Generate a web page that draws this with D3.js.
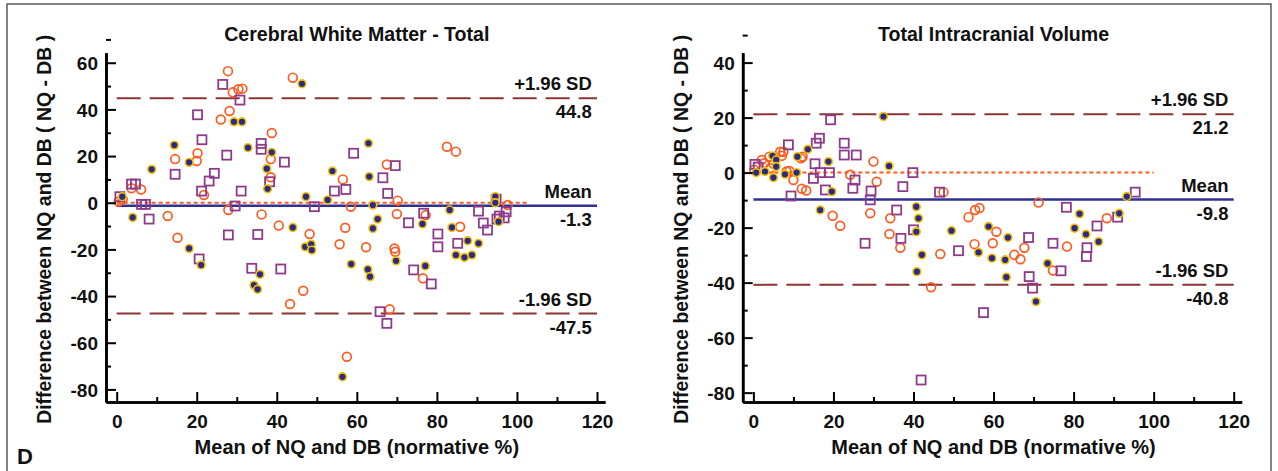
<!DOCTYPE html>
<html>
<head>
<meta charset="utf-8">
<script src="https://cdn.jsdelivr.net/npm/d3@7"></script>
<style>
  body { margin: 0; background: #fff; }
  text { font-family: 'Liberation Sans', Arial, sans-serif; font-weight: bold; fill: #111; }
</style>
</head>
<body>
<div id="chart"></div>
<script>
// Cerebral White Matter - Total : [mean, difference]
const cwmOrange = [
  [0.5, 0.5], [1.5, 1.5], [3.7, 6.2], [6.1, 5.7], [12.75, -5.7], [14.6, 18.7], [15.2, -15], [20, 17.9],
  [20.2, 21.2], [21.8, 3.3], [26, 35.7], [27.8, 56.4], [27.9, -3.1], [28.2, 39.3], [29, 47.3],
  [30.4, 48.6], [31.4, 48.9], [36.2, -5], [38.5, 10.9], [38.5, 18.7], [38.75, 29.9], [40.5, -9.8],
  [43.3, -43.4], [44, 53.6], [46.6, -37.7], [48.2, -13.4], [55.7, -17.8], [56.5, 10], [57.1, -10.7],
  [57.5, -66], [58.5, -1.7], [62.3, -19.1], [67.5, 16.4], [68.2, -45.7], [69.4, -19.6], [69.6, -21],
  [70, -4.8], [70.2, 0.9], [76.5, -32.4], [77.2, -5.3], [82.5, 24], [84.75, 21.9], [85.8, -10.3],
  [97.7, -1]
]
const cwmPurple = [
  [0.8, 2.6], [3.7, 8], [4.7, 8], [6.2, -0.7], [7.2, -0.7], [8.1, -7], [14.6, 12.2], [20.2, 37.7],
  [20.6, -24.1], [21.2, 5], [21.3, 27], [23.1, 9.3], [24.4, 12.6], [26.5, 50.7], [27.5, 20.4],
  [27.9, -13.8], [29.6, -1.4], [30.8, 44], [31.1, 5], [33.75, -28.1], [35.25, -13.6], [36.1, 25.4],
  [36.1, 22.9], [38.2, 9], [41, -28.4], [41.9, 17.4], [49.4, -1.7], [54.4, 5], [57.25, 5.7],
  [59.2, 21.2], [65.8, -46.7], [66.5, 10.7], [67.5, -51.7], [67.7, 4], [69.6, 15.9], [72.9, -8.6],
  [74.2, -28.8], [76.7, -4.5], [78.6, -34.8], [80.25, -13.4], [80.25, -18.9], [85.2, -17.4],
  [90.4, -3.6], [91.6, -8.7], [92.65, -11.7], [94.8, 1.5], [95, -7], [95.6, -5.7], [96.8, -6.5],
  [97.3, -3.9]
]
const cwmNavy = [
  [1.4, 2.6], [4, -6.3], [8.75, 14.3], [14.4, 24.7], [18.1, 17.3], [18.1, -19.6], [21.1, -26.7],
  [29.3, 34.7], [31.3, 34.7], [32.8, 23.6], [34.3, -35.3], [35.2, -37.1], [35.8, -30.7], [37.5, 14.6],
  [37.7, 6], [38.75, 21.6], [44, -10.6], [46.3, 51], [47.1, -18.9], [47.3, 2.6], [48.6, -17.8],
  [48.75, -20.3], [52.7, 1.2], [53.9, 13.6], [56.4, -74.6], [58.6, -26.3], [62.75, -28.6],
  [62.9, 25.5], [63.1, 11.2], [63.3, -31.7], [64, -1], [64, -11], [65.2, -7], [69.8, -24.9],
  [76.4, -9.1], [77.1, -27.1], [83.2, -3.1], [83.75, -10.6], [84.75, -22.4], [86.9, -23.4],
  [87.7, -16.3], [88.75, -22.4], [90.4, -17.4], [94.6, 2.6], [94.6, 0], [95.4, -8.1]
]

// Total Intracranial Volume : [mean, difference]
const icvOrange = [
  [0.2, 1], [2.1, 4.6], [2.7, 3.4], [4, 5.8], [4.2, 1.6], [5, 3.2], [6.7, 7.6], [7.1, 6.1], [7.5, 7.6],
  [8.3, 0.4], [9, 0.6], [10, -2.7], [11.9, 5.2], [12.1, -5.9], [12.3, 5.8], [13.2, -6.5], [19.8, -15.7],
  [21.7, -19.3], [24.2, -0.8], [29.2, -14.8], [30, 4], [30.8, -3.3], [34, -22.3], [34.2, -16.6],
  [36.7, -27.3], [44.4, -41.7], [46.7, -29.6], [47.5, -7.1], [53.75, -16.2], [55.25, -26],
  [55.4, -13.6], [56.5, -12.9], [59.8, -25.7], [60.7, -21.5], [65.2, -29.9], [66.7, -31.5],
  [67.7, -27.3], [71.25, -10.9], [74.85, -35.6], [78.35, -26.9], [88.3, -16.6]
]
const icvPurple = [
  [0.4, 3], [1.2, 2], [8.75, 10.1], [9.4, -8.5], [15, -2.1], [15.4, 3.2], [15.7, 10.7], [16.5, 12.5],
  [16.7, 0], [18, -6.3], [19, 0], [19.3, 19.2], [22.7, 10.7], [22.7, 6.4], [24.85, -5.7], [25.4, -2.7],
  [25.7, 6.4], [27.9, -25.7], [29.2, -9.9], [29.4, -6.7], [35.8, -13.6], [36.85, -23.9], [37.35, -5.1],
  [39.85, 0], [40, -20.8], [41.9, -75.4], [46.5, -7.1], [51.25, -28.4], [57.5, -50.9], [68.75, -23.6],
  [68.9, -37.8], [69.75, -42], [74.85, -25.7], [76.85, -35.7], [78.2, -12.6], [83.2, -30.5],
  [83.35, -27.3], [85.85, -19.4], [91, -16.2], [95.4, -7.1]
]
const icvNavy = [
  [0.7, 0], [2.9, 0.4], [4.8, 6.1], [5, -1.8], [5.7, 4.6], [5.7, 2.2], [7.9, -0.6], [10.8, 0], [11, 5.8],
  [13.6, 8.5], [16.7, -13.6], [18.75, 4], [19.6, -6.9], [32.5, 20.4], [33.9, 2.4], [40.7, -12.4],
  [40.7, -21.5], [40.85, -36], [41.25, -16.6], [42.1, -29.9], [49.5, -21.1], [56.25, -29],
  [58.75, -19.6], [59.6, -31.1], [62.9, -31.7], [63.2, -38], [63.6, -23.6], [70.6, -46.9], [73.5, -33],
  [80.25, -20.2], [81.5, -15], [83.1, -22.4], [86.25, -25.1], [91.4, -14.8], [93.3, -8.7]
]

const xTicks = [0, 20, 40, 60, 80, 100, 120]
const cwmYTicks = [-80, -60, -40, -20, 0, 20, 40, 60]
const icvYTicks = [-80, -60, -40, -20, 0, 20, 40]

const panels = [
  {
    title: 'Cerebral White Matter - Total', left: 106, yDomain: [-85.4, 64.3], yTicks: cwmYTicks,
    orange: cwmOrange, purple: cwmPurple, navy: cwmNavy,
    mean: -1.3, upper: 44.8, lower: -47.5, zeroEnd: 103
  },
  {
    title: 'Total Intracranial Volume', left: 742.7, yDomain: [-83.4, 43.6], yTicks: icvYTicks,
    orange: icvOrange, purple: icvPurple, navy: icvNavy,
    mean: -9.8, upper: 21.2, lower: -40.8, zeroEnd: 100
  }
]

const width = 1278
const height = 471
const plotTop = 52.7
const plotBottom = 402

const svg = d3
  .select('#chart')
  .append('svg')
  .attr('width', width)
  .attr('height', height)

// figure frame
svg
  .append('rect')
  .attr('x', 7)
  .attr('y', 4)
  .attr('width', 1264)
  .attr('height', 490)
  .attr('fill', 'none')
  .attr('stroke', '#333')
  .attr('stroke-width', 1.2)

svg
  .append('text')
  .attr('x', 17)
  .attr('y', 464)
  .attr('font-size', 22)
  .text('D')

panels.forEach(drawPanel)

function drawPanel(p) {
  const x = d3.scaleLinear().domain([-2.67, 122]).range([p.left, p.left + 499])
  const y = d3.scaleLinear().domain(p.yDomain).range([plotBottom, plotTop])
  const g = svg.append('g')

  // reference lines
  const hline = (v, x1, color, w, dash) =>
    g.append('line')
      .attr('x1', x(0)).attr('x2', x(x1))
      .attr('y1', y(v)).attr('y2', y(v))
      .attr('stroke', color)
      .attr('stroke-width', w)
      .attr('stroke-dasharray', dash)

  hline(p.upper, 120, '#8c3434', 2, '24,9')
  hline(p.lower, 120, '#8c3434', 2, '24,9')
  hline(0, p.zeroEnd, '#ff5a1f', 2, '4,3')
  hline(p.mean, 120, '#2e3192', 2.6, null)

  const lineLabel = (v, above, below) => {
    g.append('text').attr('x', x(118.7)).attr('y', y(v) - 8)
      .attr('text-anchor', 'end').attr('font-size', 18.5).text(above)
    g.append('text').attr('x', x(118.7)).attr('y', y(v) + 20)
      .attr('text-anchor', 'end').attr('font-size', 18.5).text(below)
  }
  lineLabel(p.upper, '+1.96 SD', p.upper.toFixed(1))
  lineLabel(p.mean, 'Mean', p.mean.toFixed(1))
  lineLabel(p.lower, '-1.96 SD', p.lower.toFixed(1))

  // points
  g.selectAll('.orange')
    .data(p.orange)
    .enter()
    .append('circle')
    .attr('class', 'orange')
    .attr('cx', d => x(d[0]))
    .attr('cy', d => y(d[1]))
    .attr('r', 4.4)
    .attr('fill', 'none')
    .attr('stroke', '#ff5a1f')
    .attr('stroke-width', 1.7)

  g.selectAll('.purple')
    .data(p.purple)
    .enter()
    .append('rect')
    .attr('class', 'purple')
    .attr('x', d => x(d[0]) - 4.5)
    .attr('y', d => y(d[1]) - 4.5)
    .attr('width', 9)
    .attr('height', 9)
    .attr('fill', 'none')
    .attr('stroke', '#8e3b8c')
    .attr('stroke-width', 1.8)

  g.selectAll('.navy')
    .data(p.navy)
    .enter()
    .append('circle')
    .attr('class', 'navy')
    .attr('cx', d => x(d[0]))
    .attr('cy', d => y(d[1]))
    .attr('r', 3.9)
    .attr('fill', '#2b2a8a')
    .attr('stroke', '#f2c200')
    .attr('stroke-width', 1.6)

  // axes
  g.append('g').attr('transform', `translate(0,${plotBottom})`)
    .call(d3.axisBottom(x).tickValues(xTicks).tickSize(-10).tickSizeOuter(0).tickPadding(13).tickFormat(d => d))
  g.append('g').attr('transform', `translate(0,${plotBottom})`)
    .call(d3.axisBottom(x).tickValues(xTicks.slice(0, -1).map(d => d + 10)).tickSize(-5).tickSizeOuter(0).tickFormat(''))
  const yAxis = g.append('g').attr('transform', `translate(${p.left},0)`)
    .call(d3.axisLeft(y).tickValues(p.yTicks).tickSize(-10).tickSizeOuter(0).tickPadding(8).tickFormat(d => d))
  g.append('g').attr('transform', `translate(${p.left},0)`)
    .call(d3.axisLeft(y).tickValues(p.yTicks.map(d => d + 10)).tickSize(-5).tickSizeOuter(0).tickFormat(''))

  g.selectAll('.domain').attr('stroke', '#000').attr('stroke-width', 2.6)
  g.selectAll('.tick line').attr('stroke', '#000').attr('stroke-width', 2)
  g.selectAll('.tick text')
    .attr('font-size', 19)
    .attr('font-family', "'Liberation Sans', Arial, sans-serif")
    .attr('font-weight', 'bold')
    .attr('fill', '#111')
  yAxis.selectAll('.tick text').attr('dy', '0.35em')

  // titles
  g.append('text')
    .attr('x', x(60))
    .attr('y', 41)
    .attr('text-anchor', 'middle')
    .attr('font-size', 19.6)
    .text(p.title)

  g.append('text')
    .attr('x', x(60))
    .attr('y', 454)
    .attr('text-anchor', 'middle')
    .attr('font-size', 20)
    .text('Mean of NQ and DB (normative %)')

  g.append('text')
    .attr('transform', `translate(${p.left - 55},${(plotTop + plotBottom) / 2 + 2}) rotate(-90)`)
    .attr('text-anchor', 'middle')
    .attr('font-size', 19.4)
    .text('Difference between NQ and DB ( NQ - DB )')
}
</script>
</body>
</html>
